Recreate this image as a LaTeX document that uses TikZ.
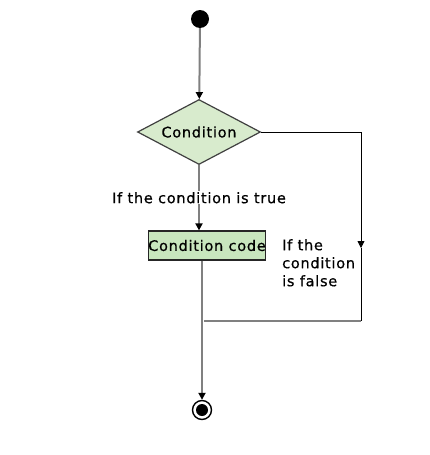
\documentclass[tikz,border=0pt]{standalone}
\usepackage{fontspec}
\setmainfont[LetterSpace=5,FakeBold=0.6]{DejaVu Sans}
\usetikzlibrary{arrows.meta,positioning,shapes.geometric}

\begin{document}
\begin{tikzpicture}[x=1pt,y=-1pt,>={Triangle[length=7pt,width=7pt,black]},
  font=\fontsize{14.5}{18}\selectfont,
  flow/.style={draw=gray,line width=2pt},
  branch/.style={draw=black,line width=0.8pt}]
\useasboundingbox (0,0) rectangle (430,455);
\node[circle,fill=black,minimum size=18pt,inner sep=0] (start) at (200,19) {};
\node[diamond,draw=black!75,fill={rgb,255:red,216;green,235;blue,205},line width=1.2pt,
  minimum width=123pt,minimum height=65pt,inner sep=0,aspect=1.9] (cond) at (199,132) {Condition};
\node[draw=black!85,fill={rgb,255:red,200;green,230;blue,190},line width=1.2pt,
  minimum width=116pt,minimum height=29pt,inner sep=0] (code) at (207,245.5) {Condition code};
\node[circle,draw=black,line width=1.4pt,minimum size=19pt,inner sep=0] (stop) at (202,410) {};
\node[circle,fill=black,minimum size=12pt,inner sep=0] (stopdot) at (stop) {};
\coordinate (c1) at (361,132);
\coordinate (c2) at (361,321);
\coordinate (mark) at (361,248);
\coordinate (merge) at (204,321);
\draw[flow,->] (start) -- (cond);
\draw[flow,->] (cond) -- (cond.south |- code.north) node[midway,fill=white,inner sep=1pt]{If the condition is true};
\draw[flow,->] (code.south -| stop) -- (stop);
\draw[branch] (cond.east) -- (c1);
\draw[branch,->] (c1) -- (mark);
\draw[branch] (mark) -- (c2);
\draw[flow] (c2) -- (merge);
\node[align=left,anchor=north west,inner sep=0] (falselbl) at (282,239) {If the\\condition\\is false};
\end{tikzpicture}
\end{document}
